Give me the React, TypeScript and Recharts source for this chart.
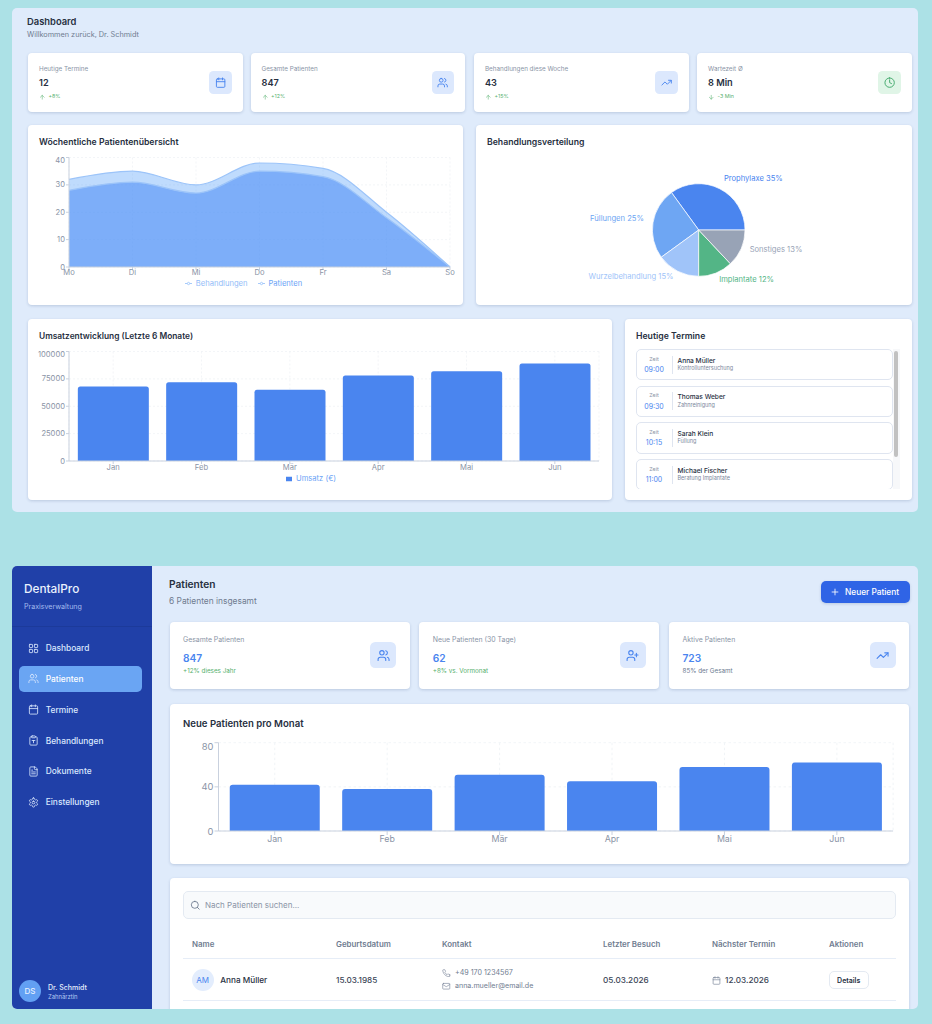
import React from 'react';
import {
  AreaChart,
  Area,
  BarChart,
  Bar,
  PieChart,
  Pie,
  Cell,
  XAxis,
  YAxis,
  CartesianGrid,
  Legend,
} from 'recharts';

// chart data
const weekdays = ['Mo', 'Di', 'Mi', 'Do', 'Fr', 'Sa', 'So'];
const patientenWeek = [32, 35, 30, 38, 36, 20, 0];
const behandlungenWeek = [28, 31, 27, 35, 33, 18, 0];
const weekTicks = [0, 10, 20, 30, 40];

const months = ['Jan', 'Feb', 'Mär', 'Apr', 'Mai', 'Jun'];
const umsatz = [68000, 72000, 65000, 78000, 82000, 89000];
const umsatzTicks = [0, 25000, 50000, 75000, 100000];

const neuePatienten = [42, 38, 51, 45, 58, 62];
const neueTicks = [0, 20, 40, 60, 80];

const treatmentNames = ['Prophylaxe', 'Füllungen', 'Wurzelbehandlung', 'Implantate', 'Sonstiges'];
const treatmentShare = [35, 25, 15, 12, 13];
const treatmentColors = ['#4a85ef', '#6ea6f3', '#a0c4f9', '#53b586', '#98a3b6'];

const weekData = weekdays.map((day, i) => ({
  day,
  Patienten: patientenWeek[i],
  Behandlungen: behandlungenWeek[i],
}));
const umsatzData = months.map((month, i) => ({ month, value: umsatz[i] }));
const neueData = months.map((month, i) => ({ month, value: neuePatienten[i] }));
const treatmentData = treatmentNames.map((name, i) => ({ name, value: treatmentShare[i] }));

const appointments = [
  ['09:00', 'Anna Müller', 'Kontrolluntersuchung'],
  ['09:30', 'Thomas Weber', 'Zahnreinigung'],
  ['10:15', 'Sarah Klein', 'Füllung'],
  ['11:00', 'Michael Fischer', 'Beratung Implantate'],
];

const BLUE = '#4a85ef';
const DARK = '#27303f';
const GREY = '#8a94a6';
const GREEN = '#55b06e';
const AXIS = '#c9d1de';
const GRID = '#eef1f5';

// lucide icon outlines
const rectPath = 'M5 4h14a2 2 0 0 1 2 2v14a2 2 0 0 1-2 2H5a2 2 0 0 1-2-2V6a2 2 0 0 1 2-2z';
const icons: Record<string, string[]> = {
  calendar: ['M8 2v4', 'M16 2v4', rectPath, 'M3 10h18'],
  users: [
    'M16 21v-2a4 4 0 0 0-4-4H6a4 4 0 0 0-4 4v2',
    'M9 3a4 4 0 1 0 0 8a4 4 0 1 0 0-8z',
    'M22 21v-2a4 4 0 0 0-3-3.87',
    'M16 3.13a4 4 0 0 1 0 7.75',
  ],
  userPlus: [
    'M16 21v-2a4 4 0 0 0-4-4H6a4 4 0 0 0-4 4v2',
    'M9 3a4 4 0 1 0 0 8a4 4 0 1 0 0-8z',
    'M19 8v6',
    'M22 11h-6',
  ],
  trend: ['M22 7 13.5 15.5 8.5 10.5 2 17', 'M16 7h6v6'],
  clock: ['M12 2a10 10 0 1 0 0 20a10 10 0 1 0 0-20z', 'M12 6v6l4 2'],
  up: ['m5 12 7-7 7 7', 'M12 19V5'],
  down: ['M12 5v14', 'm19 12-7 7-7-7'],
  grid: [
    'M4 3h5a1 1 0 0 1 1 1v5a1 1 0 0 1-1 1H4a1 1 0 0 1-1-1V4a1 1 0 0 1 1-1z',
    'M15 3h5a1 1 0 0 1 1 1v5a1 1 0 0 1-1 1h-5a1 1 0 0 1-1-1V4a1 1 0 0 1 1-1z',
    'M15 14h5a1 1 0 0 1 1 1v5a1 1 0 0 1-1 1h-5a1 1 0 0 1-1-1v-5a1 1 0 0 1 1-1z',
    'M4 14h5a1 1 0 0 1 1 1v5a1 1 0 0 1-1 1H4a1 1 0 0 1-1-1v-5a1 1 0 0 1 1-1z',
  ],
  clipboard: [
    'M9 2h6a1 1 0 0 1 1 1v2a1 1 0 0 1-1 1H9a1 1 0 0 1-1-1V3a1 1 0 0 1 1-1z',
    'M16 4h2a2 2 0 0 1 2 2v14a2 2 0 0 1-2 2H6a2 2 0 0 1-2-2V6a2 2 0 0 1 2-2h2',
    'M9 12h6',
    'M12 12v5',
  ],
  file: [
    'M15 2H6a2 2 0 0 0-2 2v16a2 2 0 0 0 2 2h12a2 2 0 0 0 2-2V7Z',
    'M14 2v4a2 2 0 0 0 2 2h4',
    'M10 9H8',
    'M16 13H8',
    'M16 17H8',
  ],
  settings: [
    'M12.22 2h-.44a2 2 0 0 0-2 2v.18a2 2 0 0 1-1 1.73l-.43.25a2 2 0 0 1-2 0l-.15-.08a2 2 0 0 0-2.73.73l-.22.38a2 2 0 0 0 .73 2.73l.15.1a2 2 0 0 1 1 1.72v.51a2 2 0 0 1-1 1.74l-.15.09a2 2 0 0 0-.73 2.73l.22.38a2 2 0 0 0 2.73.73l.15-.08a2 2 0 0 1 2 0l.43.25a2 2 0 0 1 1 1.73V20a2 2 0 0 0 2 2h.44a2 2 0 0 0 2-2v-.18a2 2 0 0 1 1-1.73l.43-.25a2 2 0 0 1 2 0l.15.08a2 2 0 0 0 2.73-.73l.22-.39a2 2 0 0 0-.73-2.73l-.15-.08a2 2 0 0 1-1-1.74v-.5a2 2 0 0 1 1-1.74l.15-.09a2 2 0 0 0 .73-2.73l-.22-.38a2 2 0 0 0-2.73-.73l-.15.08a2 2 0 0 1-2 0l-.43-.25a2 2 0 0 1-1-1.73V4a2 2 0 0 0-2-2z',
    'M12 9a3 3 0 1 0 0 6a3 3 0 1 0 0-6z',
  ],
  plus: ['M5 12h14', 'M12 5v14'],
  search: ['M11 3a8 8 0 1 0 0 16a8 8 0 1 0 0-16z', 'm21 21-4.3-4.3'],
  phone: [
    'M22 16.92v3a2 2 0 0 1-2.18 2 19.79 19.79 0 0 1-8.63-3.07 19.5 19.5 0 0 1-6-6 19.79 19.79 0 0 1-3.07-8.67A2 2 0 0 1 4.11 2h3a2 2 0 0 1 2 1.72 12.84 12.84 0 0 0 .7 2.81 2 2 0 0 1-.45 2.11L8.09 9.91a16 16 0 0 0 6 6l1.27-1.27a2 2 0 0 1 2.11-.45 12.84 12.84 0 0 0 2.81.7A2 2 0 0 1 22 16.92z',
  ],
  mail: ['M4 4h16a2 2 0 0 1 2 2v12a2 2 0 0 1-2 2H4a2 2 0 0 1-2-2V6a2 2 0 0 1 2-2z', 'm22 7-8.97 5.7a1.94 1.94 0 0 1-2.06 0L2 7'],
};

// all positions below are page coordinates, text y is the vertical middle
const Txt = ({ x, y, s, c = DARK, w = 400, center, children }: any) => (
  <div
    style={{
      position: 'absolute',
      left: x,
      top: y,
      transform: center ? 'translate(-50%,-50%)' : 'translateY(-50%)',
      fontSize: s,
      color: c,
      fontWeight: w,
      whiteSpace: 'nowrap',
      lineHeight: 1,
    }}
  >
    {children}
  </div>
);

const Box = ({ x, y, w, h, bg = '#fff', r = 4, shadow, border, children }: any) => (
  <div
    style={{
      position: 'absolute',
      left: x,
      top: y,
      width: w,
      height: h,
      background: bg,
      borderRadius: r,
      boxSizing: 'border-box',
      boxShadow: shadow ? '0 1px 3px rgba(40,70,120,0.2)' : undefined,
      border,
    }}
  >
    {children}
  </div>
);

const Icon = ({ name, x, y, size, color, sw = 2 }: any) => (
  <svg
    style={{ position: 'absolute', left: x, top: y }}
    width={size}
    height={size}
    viewBox="0 0 24 24"
    fill="none"
    stroke={color}
    strokeWidth={sw}
    strokeLinecap="round"
    strokeLinejoin="round"
  >
    {icons[name].map((d) => (
      <path key={d} d={d} />
    ))}
  </svg>
);

const IconBox = ({ x, y, size, name, bg = '#dce8fd', color = BLUE }: any) => (
  <>
    <Box x={x} y={y} w={size} h={size} bg={bg} r={size * 0.2} />
    <Icon name={name} x={x + size * 0.25} y={y + size * 0.25} size={size * 0.5} color={color} />
  </>
);

// top tick label sits a little below its tick in the reference
const yTick = (top: number, size: number, shift: number) => (p: any) => (
  <text
    x={p.x}
    y={p.y + (p.payload.value === top ? shift : 0)}
    textAnchor="end"
    dominantBaseline="central"
    fontSize={size}
    fill={GREY}
  >
    {p.payload.value}
  </text>
);

const chartBox = (x: number, y: number): React.CSSProperties => ({ position: 'absolute', left: x, top: y });

const WeekChart = () => (
  <div style={chartBox(28, 125)}>
    <AreaChart width={435} height={180} data={weekData} margin={{ top: 32.5, right: 13, left: 19, bottom: 12 }}>
      <CartesianGrid strokeDasharray="2 2" stroke={GRID} strokeWidth={0.7} />
      <XAxis
        dataKey="day"
        height={12}
        interval={0}
        tickSize={3}
        tickMargin={0}
        tick={{ fontSize: 7.6, fill: GREY }}
        stroke={AXIS}
      />
      <YAxis
        width={22}
        domain={[0, 40]}
        ticks={weekTicks}
        tickSize={3}
        tickMargin={1}
        tick={yTick(40, 7.6, 2.5)}
        stroke={AXIS}
      />
      <Legend
        height={14}
        iconSize={7}
        wrapperStyle={{ fontSize: 7.6 }}
        formatter={(value) => (
          <span style={{ color: value === 'Patienten' ? '#6ba3f6' : '#93bcf8' }}>{value}</span>
        )}
      />
      <Area
        type="monotone"
        dataKey="Patienten"
        stroke="#9cc4f9"
        strokeWidth={1.2}
        fill="#60a5fa"
        fillOpacity={0.4}
        isAnimationActive={false}
      />
      <Area
        type="monotone"
        dataKey="Behandlungen"
        stroke="#9cc4f9"
        strokeWidth={1.2}
        fill="#3b82f6"
        fillOpacity={0.5}
        isAnimationActive={false}
      />
    </AreaChart>
  </div>
);

const renderSliceLabel = (p: any) => {
  const rad = (p.midAngle * Math.PI) / 180;
  const r = p.outerRadius + 9.2;
  const x = p.cx + r * Math.cos(rad);
  const y = p.cy - r * Math.sin(rad) - 2.5;
  return (
    <text
      x={x}
      y={y}
      textAnchor={x > p.cx ? 'start' : 'end'}
      dominantBaseline="central"
      fontSize={7.6}
      fill={treatmentColors[p.index]}
    >
      {`${p.name} ${p.value}%`}
    </text>
  );
};

const ShareChart = () => (
  <div style={chartBox(476, 125)}>
    <PieChart width={436} height={180}>
      <Pie
        data={treatmentData}
        dataKey="value"
        nameKey="name"
        cx={217.7}
        cy={100}
        outerRadius={46.3}
        labelLine={false}
        label={renderSliceLabel}
        stroke="#fff"
        strokeWidth={0.7}
        isAnimationActive={false}
      >
        {treatmentData.map((d, i) => (
          <Cell key={d.name} fill={treatmentColors[i]} />
        ))}
      </Pie>
    </PieChart>
  </div>
);

const UmsatzChart = () => (
  <div style={chartBox(28, 319)}>
    <BarChart width={584} height={181} data={umsatzData} margin={{ top: 32.5, right: 13, left: 5, bottom: 12 }}>
      <CartesianGrid strokeDasharray="2 2" stroke={GRID} strokeWidth={0.7} />
      <XAxis dataKey="month" height={13} interval={0} tickSize={3} tickMargin={1} tick={{ fontSize: 7.6, fill: GREY }} stroke={AXIS} />
      <YAxis
        width={36}
        domain={[0, 100000]}
        ticks={umsatzTicks}
        tickSize={3}
        tickMargin={1}
        tick={yTick(100000, 7.6, 2.5)}
        stroke={AXIS}
      />
      <Legend
        height={14}
        iconSize={6}
        wrapperStyle={{ fontSize: 7.6 }}
        formatter={(value) => <span style={{ color: '#6ba3f6' }}>{value}</span>}
      />
      <Bar dataKey="value" name="Umsatz (€)" fill={BLUE} radius={[2.5, 2.5, 0, 0]} isAnimationActive={false} />
    </BarChart>
  </div>
);

const NeueChart = () => (
  <div style={chartBox(169.5, 704)}>
    <BarChart width={739.5} height={159.5} data={neueData} margin={{ top: 38.7, right: 16.4, left: 18.5, bottom: 16 }}>
      <CartesianGrid strokeDasharray="2.5 2.5" stroke={GRID} strokeWidth={0.8} />
      <XAxis dataKey="month" height={16.5} interval={0} tickSize={4} tickMargin={1} tick={{ fontSize: 8.8, fill: GREY }} stroke={AXIS} />
      <YAxis
        width={30}
        domain={[0, 80]}
        ticks={neueTicks}
        tickSize={4}
        tickMargin={1}
        tick={yTick(80, 9.4, 3.5)}
        stroke={AXIS}
      />
      <Bar dataKey="value" fill={BLUE} radius={[3, 3, 0, 0]} isAnimationActive={false} />
    </BarChart>
  </div>
);

const topCards = [
  { x: 28, label: 'Heutige Termine', value: '12', delta: '+8%', dir: 'up', icon: 'calendar' },
  { x: 250.5, label: 'Gesamte Patienten', value: '847', delta: '+12%', dir: 'up', icon: 'users' },
  { x: 474, label: 'Behandlungen diese Woche', value: '43', delta: '+15%', dir: 'up', icon: 'trend' },
  { x: 697, label: 'Wartezeit Ø', value: '8 Min', delta: '-3 Min', dir: 'down', icon: 'clock' },
];

const patientCards = [
  { x: 169.5, label: 'Gesamte Patienten', value: '847', sub: '+12% dieses Jahr', c: GREEN, icon: 'users' },
  { x: 419.3, label: 'Neue Patienten (30 Tage)', value: '62', sub: '+8% vs. Vormonat', c: GREEN, icon: 'userPlus' },
  { x: 669, label: 'Aktive Patienten', value: '723', sub: '85% der Gesamt', c: '#6b7a90', icon: 'trend' },
];

const navItems = [
  ['grid', 'Dashboard'],
  ['users', 'Patienten'],
  ['calendar', 'Termine'],
  ['clipboard', 'Behandlungen'],
  ['file', 'Dokumente'],
  ['settings', 'Einstellungen'],
];

const tableHeads = [
  ['Name', 192],
  ['Geburtsdatum', 336],
  ['Kontakt', 442],
  ['Letzter Besuch', 603],
  ['Nächster Termin', 712],
  ['Aktionen', 829],
];

export default function App() {
  return (
    <div
      style={{
        position: 'absolute',
        left: 0,
        top: 0,
        width: 932,
        height: 1024,
        overflow: 'hidden',
        background: '#ace1e6',
        fontFamily: 'Inter, sans-serif',
      }}
    >
      {/* upper screenshot: dashboard */}
      <Box x={12} y={8} w={906} h={504} bg="#dfebfb" r={5} />
      <Txt x={27} y={21.5} s={9.4} w={600}>Dashboard</Txt>
      <Txt x={27} y={35} s={7.3} c="#6f7c90">Willkommen zurück, Dr. Schmidt</Txt>

      {topCards.map((c) => (
        <React.Fragment key={c.label}>
          <Box x={c.x} y={53} w={214.5} h={59} shadow />
          <Txt x={c.x + 11} y={68.5} s={6.3} c={GREY}>{c.label}</Txt>
          <Txt x={c.x + 11} y={83} s={9.2} w={600}>{c.value}</Txt>
          <Icon name={c.dir} x={c.x + 11} y={93.5} size={6.5} color={GREEN} />
          <Txt x={c.x + 20.5} y={96.8} s={5.3} c={GREEN}>{c.delta}</Txt>
          {c.icon === 'clock' ? (
            <IconBox x={c.x + 181} y={71} size={22.5} name={c.icon} bg="#e0f5e7" color="#3fa76a" />
          ) : (
            <IconBox x={c.x + 181} y={71} size={22.5} name={c.icon} />
          )}
        </React.Fragment>
      ))}

      <Box x={28} y={125} w={435} h={180} shadow />
      <Txt x={39} y={141.5} s={8.7} w={600}>Wöchentliche Patientenübersicht</Txt>
      <WeekChart />

      <Box x={476} y={125} w={436} h={180} shadow />
      <Txt x={487} y={141.5} s={8.7} w={600}>Behandlungsverteilung</Txt>
      <ShareChart />

      <Box x={28} y={319} w={584} h={181} shadow />
      <Txt x={39} y={336} s={8.4} w={600}>Umsatzentwicklung (Letzte 6 Monate)</Txt>
      <UmsatzChart />

      <Box x={625} y={319} w={287} h={181} shadow />
      <Txt x={636} y={336} s={8.7} w={600}>Heutige Termine</Txt>
      <div style={{ position: 'absolute', left: 636, top: 349, width: 264, height: 140, overflow: 'hidden' }}>
        <div style={{ position: 'absolute', left: 257, top: 0, width: 7, height: 140, background: '#f7f8fa' }} />
        <div style={{ position: 'absolute', left: 257.5, top: 2, width: 4.5, height: 106, background: '#c1c1c1', borderRadius: 2 }} />
        {appointments.map(([time, name, what], i) => {
          const top = i * 36.7;
          return (
            <React.Fragment key={name}>
              <Box x={0} y={top} w={257} h={31.2} r={5} border="1px solid #dfe5f0" />
              <Txt x={18} y={top + 10.5} s={5.4} c={GREY} center>Zeit</Txt>
              <Txt x={18} y={top + 20} s={7} c={BLUE} center>{time}</Txt>
              <div style={{ position: 'absolute', left: 35.5, top: top + 6.5, width: 0.7, height: 18, background: '#dfe5f0' }} />
              <Txt x={41.5} y={top + 11.5} s={6.6} w={500}>{name}</Txt>
              <Txt x={41.5} y={top + 20} s={5.5} c="#7a869a">{what}</Txt>
            </React.Fragment>
          );
        })}
      </div>

      {/* lower screenshot: patients page */}
      <div style={{ position: 'absolute', left: 12, top: 566, width: 906, height: 443, overflow: 'hidden', borderRadius: 5 }}>
        <div style={{ position: 'absolute', left: -12, top: -566, width: 932, height: 1024 }}>
          <Box x={12} y={566} w={906} h={443} bg="#dfebfb" r={0} />

          <Box x={12} y={566} w={139.5} h={443} bg="#2040a8" r={0} />
          <div style={{ position: 'absolute', left: 12, top: 625.5, width: 139.5, height: 0.7, background: '#1c3a9a' }} />
          <Txt x={24} y={589.5} s={11.8} w={500} c="#eaf1fd">DentalPro</Txt>
          <Txt x={24} y={606.5} s={7.1} c="#a4bcee">Praxisverwaltung</Txt>
          <Box x={19} y={665.5} w={123} h={26} bg="#6aa5f3" r={5} />
          {navItems.map(([icon, label], i) => {
            const y = 648 + i * 30.85;
            return (
              <React.Fragment key={label}>
                <Icon name={icon} x={28} y={y - 5.5} size={11} color="#dbe8fe" sw={1.8} />
                <Txt x={45.7} y={y} s={8.4} w={500} c={i === 1 ? '#ffffff' : '#dbe8fe'}>{label}</Txt>
              </React.Fragment>
            );
          })}
          <Box x={19} y={980} w={22} h={22} bg="#62a0f3" r={11} />
          <Txt x={30} y={991} s={8} w={500} c="#e6f0fe" center>DS</Txt>
          <Txt x={48} y={986.7} s={7} w={500} c="#e6eefc">Dr. Schmidt</Txt>
          <Txt x={48} y={996.7} s={5.9} c="#b4c8f2">Zahnärztin</Txt>

          <Txt x={169} y={584} s={10.2} w={600}>Patienten</Txt>
          <Txt x={169} y={601} s={8.4} c="#6f7c90">6 Patienten insgesamt</Txt>
          <Box x={821} y={581} w={88.5} h={22} bg="#2f64e6" r={5} shadow />
          <Icon name="plus" x={830} y={587} size={10} color="#ffffff" />
          <Txt x={845} y={592} s={8.3} w={500} c="#ffffff">Neuer Patient</Txt>

          {patientCards.map((c) => (
            <React.Fragment key={c.label}>
              <Box x={c.x} y={621.5} w={240} h={67.5} shadow />
              <Txt x={c.x + 13.5} y={640} s={6.9} c={GREY}>{c.label}</Txt>
              <Txt x={c.x + 13.5} y={657.5} s={10.2} w={600} c={BLUE}>{c.value}</Txt>
              <Txt x={c.x + 13.5} y={671.3} s={6.3} c={c.c}>{c.sub}</Txt>
              <IconBox x={c.x + 200.5} y={642} size={26.3} name={c.icon} />
            </React.Fragment>
          ))}

          <Box x={169.5} y={704} w={739.5} h={159.5} shadow />
          <Txt x={183} y={724} s={9.6} w={600}>Neue Patienten pro Monat</Txt>
          <NeueChart />

          <Box x={169.5} y={878} w={739.5} h={160} shadow />
          <Box x={183} y={891} w={712.5} h={27.7} bg="#f8fafc" r={5} border="1px solid #e4eaf2" />
          <Icon name="search" x={189.5} y={900} size={10.5} color="#6f7c90" />
          <Txt x={205} y={905} s={8} c={GREY}>Nach Patienten suchen...</Txt>
          {tableHeads.map(([label, x]) => (
            <Txt key={label} x={x} y={945} s={7.9} w={600} c="#6f7c90">{label}</Txt>
          ))}
          <div style={{ position: 'absolute', left: 183, top: 958.3, width: 712.5, height: 0.8, background: '#e6edf7' }} />
          <Box x={191.5} y={969} w={22} h={22} bg="#e3edfd" r={11} />
          <Txt x={202.5} y={980} s={8} c={BLUE} center>AM</Txt>
          <Txt x={220.3} y={980} s={8.2} w={500}>Anna Müller</Txt>
          <Txt x={336} y={980} s={8.2} w={500} c="#3a4556">15.03.1985</Txt>
          <Icon name="phone" x={442} y={968.5} size={8.5} color="#7a869a" sw={1.8} />
          <Txt x={455} y={973} s={7.1} c="#6f7c90">+49 170 1234567</Txt>
          <Icon name="mail" x={442} y={982} size={8.5} color="#7a869a" sw={1.8} />
          <Txt x={455} y={986.3} s={7.1} c="#6f7c90">anna.mueller@email.de</Txt>
          <Txt x={603} y={980} s={8.2} w={500} c="#3a4556">05.03.2026</Txt>
          <Icon name="calendar" x={712} y={975.5} size={9} color="#7a869a" sw={1.8} />
          <Txt x={725} y={980} s={8.2} w={500} c="#3a4556">12.03.2026</Txt>
          <Box x={829} y={970.5} w={39.5} h={18.5} r={5} border="1px solid #e4eaf2" />
          <Txt x={848.7} y={980} s={7} w={600} center>Details</Txt>
          <div style={{ position: 'absolute', left: 183, top: 1000.3, width: 712.5, height: 0.8, background: '#e6edf7' }} />
        </div>
      </div>
    </div>
  );
}
